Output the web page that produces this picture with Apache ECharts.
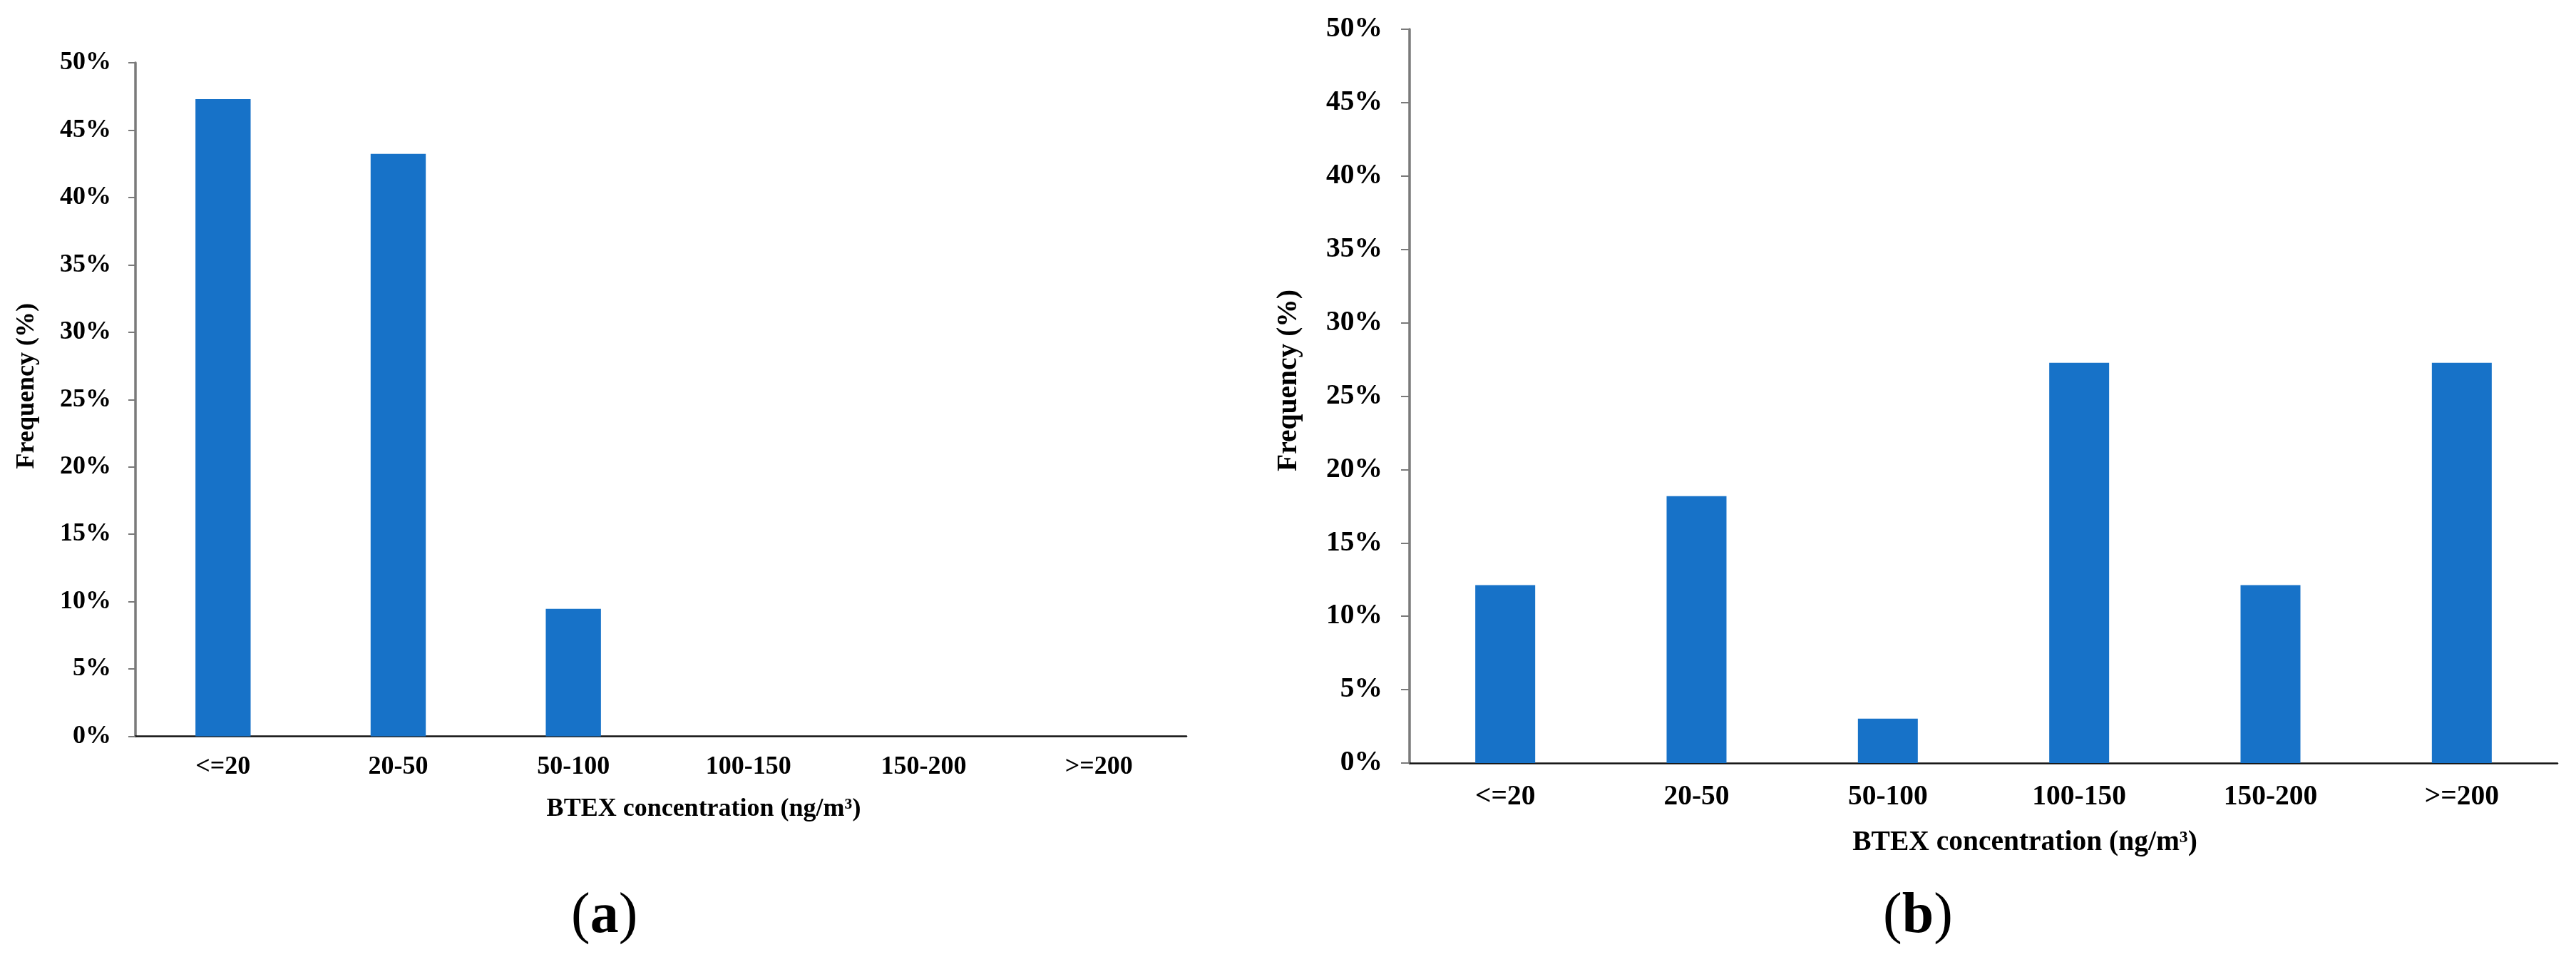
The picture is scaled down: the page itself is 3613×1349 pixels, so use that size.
<!DOCTYPE html>
<html>
<head>
<meta charset="utf-8">
<script src="https://cdn.jsdelivr.net/npm/echarts@6/dist/echarts.min.js"></script>
<style>
html,body{margin:0;padding:0;background:#fff;}
#chart{width:3613px;height:1349px;}
</style>
</head>
<body>
<div id="chart"></div>
<script>
// ---- data ----
const categories = ['<=20', '20-50', '50-100', '100-150', '150-200', '>=200'];
const valuesA = [47.30, 43.24, 9.46, 0, 0, 0];
const valuesB = [12.12, 18.18, 3.03, 27.27, 12.12, 27.27];
const yTicks = { min: 0, max: 50, interval: 5 };
const xTitle = 'BTEX concentration (ng/m\u00B3)';
const yTitle = 'Frequency (%)';
const panelLabels = ['a', 'b'];

const FONT = '"Liberation Serif", "Times New Roman", serif';
const BAR = '#1772C8';

function yAxisFor(gridIndex, fs, margin, tickLen, nameGap, shiftUp) {
  return {
    type: 'value', gridIndex: gridIndex,
    min: yTicks.min, max: yTicks.max, interval: yTicks.interval,
    name: yTitle, nameLocation: 'middle', nameGap: nameGap,
    nameTextStyle: { fontFamily: FONT, fontWeight: 'bold', fontSize: fs, color: '#000', padding: [0, 0, 0, shiftUp * 2] },
    axisLine: { show: true, lineStyle: { color: '#7a7a7a', width: 3.5 } },
    axisTick: { show: true, inside: false, length: tickLen, lineStyle: { color: '#7a7a7a', width: 2 } },
    axisLabel: { formatter: '{value}%', fontFamily: FONT, fontWeight: 'bold', fontSize: fs, color: '#000', margin: margin },
    splitLine: { show: false }
  };
}
function xAxisFor(gridIndex, fs, margin, nameGap, shiftRight) {
  return {
    type: 'category', gridIndex: gridIndex, data: categories,
    name: xTitle, nameLocation: 'middle', nameGap: nameGap,
    nameTextStyle: { fontFamily: FONT, fontWeight: 'bold', fontSize: fs, color: '#000', padding: [0, 0, 0, shiftRight * 2] },
    axisLine: { show: true, lineStyle: { color: '#111', width: 2.5 } },
    axisTick: { show: false },
    axisLabel: { fontFamily: FONT, fontWeight: 'bold', fontSize: fs, color: '#000', margin: margin, interval: 0 },
    splitLine: { show: false }
  };
}

const chart = echarts.init(document.getElementById('chart'), null, { renderer: 'canvas' });
chart.setOption({
  backgroundColor: '#fff',
  animation: false,
  grid: [
    { left: 190, right: 1949, top: 88, bottom: 316.5 },
    { left: 1977, right: 26, top: 41, bottom: 279 }
  ],
  xAxis: [
    xAxisFor(0, 36, 25, 84, 60),
    xAxisFor(1, 39.5, 28, 92, 58)
  ],
  yAxis: [
    yAxisFor(0, 36, 34, 10, 134, 19),
    yAxisFor(1, 39.5, 38, 12, 149, 22)
  ],
  series: [
    { type: 'bar', xAxisIndex: 0, yAxisIndex: 0, data: valuesA, barWidth: '31.5%', itemStyle: { color: BAR } },
    { type: 'bar', xAxisIndex: 1, yAxisIndex: 1, data: valuesB, barWidth: '31.3%', itemStyle: { color: BAR } }
  ],
  graphic: [
    {
      type: 'text', left: 847 - 46, top: 1246,
      style: {
        text: '{r|(}{b|' + panelLabels[0] + '}{r|)}',
        rich: {
          r: { fontFamily: FONT, fontSize: 80, fontWeight: 'normal', fill: '#000' },
          b: { fontFamily: FONT, fontSize: 80, fontWeight: 'bold', fill: '#000' }
        }
      }
    },
    {
      type: 'text', left: 2688 - 47, top: 1246,
      style: {
        text: '{r|(}{b|' + panelLabels[1] + '}{r|)}',
        rich: {
          r: { fontFamily: FONT, fontSize: 80, fontWeight: 'normal', fill: '#000' },
          b: { fontFamily: FONT, fontSize: 80, fontWeight: 'bold', fill: '#000' }
        }
      }
    }
  ]
});
</script>
</body>
</html>
